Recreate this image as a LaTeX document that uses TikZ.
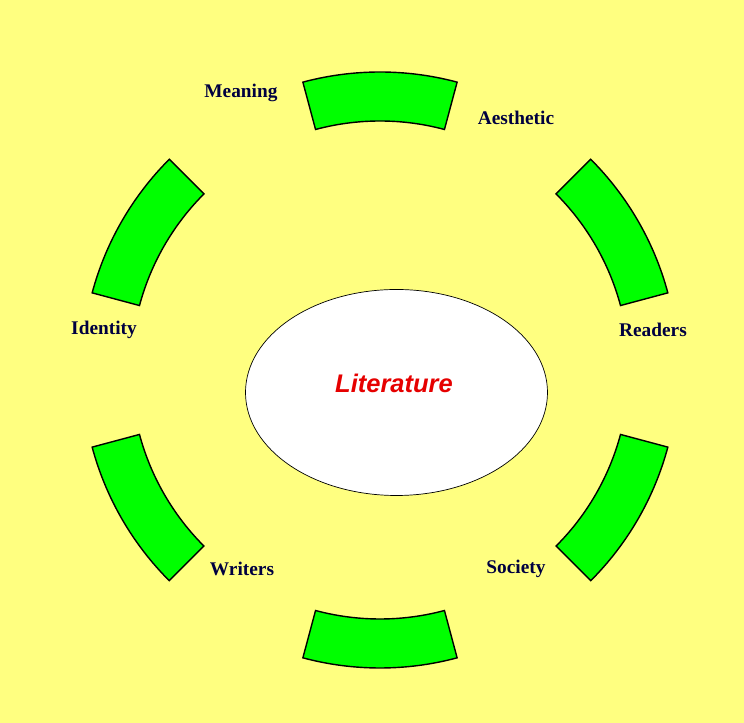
\documentclass[tikz,border=0pt]{standalone}
\usepackage{fontspec}
\setmainfont{Liberation Serif}
\setsansfont{Liberation Sans}
\usepackage{tikz}
\usetikzlibrary{positioning,shapes.geometric,calc}
\definecolor{paleyellow}{RGB}{255,255,128}
\definecolor{ringgreen}{RGB}{0,255,0}
\definecolor{labelnavy}{RGB}{0,0,64}
\definecolor{titlered}{RGB}{230,0,0}

\begin{document}
\begin{tikzpicture}[
    every node/.style={font=\rmfamily\bfseries\fontsize{11}{13}\selectfont, text=labelnavy},
    segment/.style={draw=black, fill=ringgreen, thick},
    hub/.style={draw=black, fill=white, ellipse,
                minimum width=6.04cm, minimum height=4.12cm},
]
    % background
    \fill[paleyellow] (0,0) rectangle (14.88,14.46);
    \useasboundingbox (0,0) rectangle (14.88,14.46);
    \coordinate (c) at (7.6,7.06);

    % green ring pieces
    \foreach \a in {30,90,150,210,270,330} {
        \draw[segment] ($(c)+(\a-15:5.96)$) arc[start angle=\a-15, end angle=\a+15, radius=5.96]
            -- ($(c)+(\a+15:4.98)$) arc[start angle=\a+15, end angle=\a-15, radius=4.98]
            -- cycle;
    }

    % centre
    \node[hub] (lit) at (7.93,6.61) {};
    \node[font=\sffamily\bfseries\itshape\fontsize{14.5}{17}\selectfont, text=titlered]
        (littext) at (7.88,6.8) {Literature};

    % labels
    \node (meaning) at (4.82,12.6) {Meaning};
    \node (aesthetic) at (10.32,12.1) {Aesthetic};
    \node (identity) at (2.08,7.86) {Identity};
    \node (readers) at (13.06,7.86) {Readers};
    \node (writers) at (4.84,3.08) {Writers};
    \node (society) at (10.32,3.08) {Society};
\end{tikzpicture}
\end{document}
